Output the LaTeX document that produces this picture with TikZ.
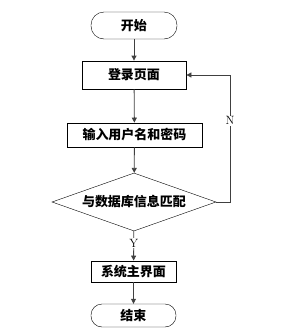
\documentclass[tikz,border=0pt]{standalone}
\usepackage{fontspec}
\newfontfamily\cjk{Noto Sans CJK SC}
\usetikzlibrary{arrows.meta,positioning,shapes.geometric}

\begin{document}
\begin{tikzpicture}[x=1pt,y=-1pt,
   font=\cjk\bfseries\fontsize{13}{15}\selectfont,
   term/.style={draw,rounded corners=13pt,minimum width=86pt,minimum height=27pt,inner sep=0pt},
   box/.style={draw,thick,minimum height=24pt,inner sep=0pt},
   dec/.style={draw,diamond,aspect=2.83,minimum width=164pt,minimum height=58pt,inner sep=0pt},
   flow/.style={-{Triangle[length=5pt,width=5pt]},draw=black!75,thick},
   lab/.style={fill=white,font=\rmfamily\fontsize{12}{14}\selectfont,inner sep=1pt}]
  \useasboundingbox (0,0) rectangle (286,333);
  \node[term] (start) at (134,25.5) {开始};
  \node[box,minimum width=104pt,minimum height=28pt] (login) at (134,75) {登录页面};
  \node[box,minimum width=135pt] (input) at (134.5,135) {输入用户名和密码};
  \node[dec] (check) at (134,202) {与数据库信息匹配};
  \node[box,minimum width=85pt,minimum height=21pt] (main) at (133.5,271.5) {系统主界面};
  \node[term,minimum width=85pt,minimum height=23pt,rounded corners=11pt] (stop) at (133.5,315.5) {结束};
  \coordinate (back) at (230,202);
  \draw[flow] (start) -- (login);
  \draw[flow] (login) -- (input);
  \draw[flow] (input) -- (check);
  \draw[flow] (check) -- node[lab,pos=0.4] {Y} (main);
  \draw[flow] (main) -- (stop);
  \draw[flow] (check.east) -- (back) |- node[lab,pos=0.32] {N} (login.east);
\end{tikzpicture}
\end{document}
